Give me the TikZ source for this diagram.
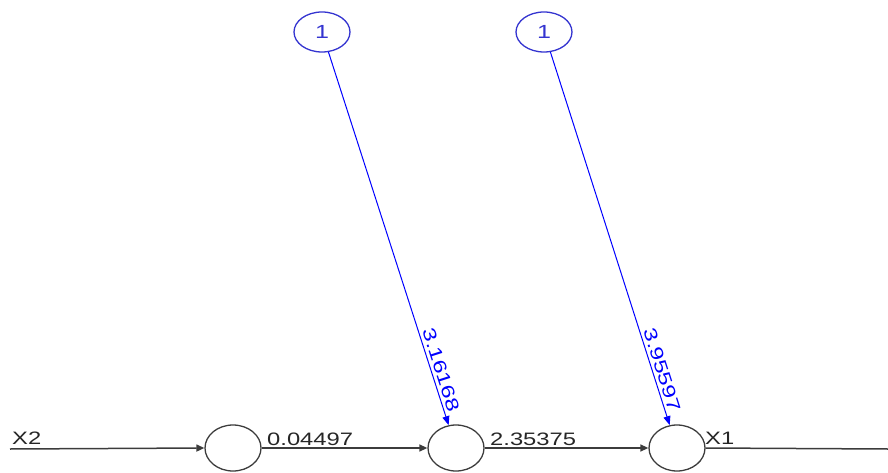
\documentclass[tikz,border=0pt]{standalone}
\usepackage{fontspec}
\setmainfont{Liberation Sans}
\usetikzlibrary{arrows.meta,shapes.geometric}
\definecolor{edgegray}{HTML}{3C3C3C}
\definecolor{biasblue}{HTML}{3434D0}
\newcommand{\wt}[1]{\scalebox{1.32}[1]{#1}}
\begin{document}
\begin{tikzpicture}[x=1pt,y=1pt,
  neuron/.style={draw=edgegray,line width=1.3pt,ellipse,minimum width=56pt,minimum height=46pt,inner sep=0pt},
  biasnode/.style={draw=biasblue,line width=1.3pt,ellipse,minimum width=56pt,minimum height=40pt,inner sep=0pt,text=biasblue},
  edge/.style={draw=edgegray,line width=1.5pt,-{Triangle[length=8pt,width=7pt]}},
  biasedge/.style={draw=blue,line width=1pt,-{Triangle[length=9pt,width=7pt]}},
  lbl/.style={font=\fontsize{18}{20}\selectfont,text=black!85,inner sep=0pt},
  blbl/.style={font=\fontsize{18}{20}\selectfont,text=blue,inner sep=3pt,sloped,above}]
\useasboundingbox (0,0) rectangle (888,472);
% hidden / output neurons
\node[neuron] (h1) at (233,24) {};
\node[neuron] (h2) at (456,24) {};
\node[neuron] (h3) at (677,24) {};
% bias units
\node[biasnode,font=\fontsize{19}{20}\selectfont] (b1) at (322,440) {\wt{1}};
\node[biasnode,font=\fontsize{19}{20}\selectfont] (b2) at (544,440) {\wt{1}};
% input and output ends
\coordinate (in) at (10,23);
\coordinate (out) at (888,23);
% connections
\draw[edge] (in) -- (h1.west);
\draw[edge] (h1.east) -- (h2.west);
\draw[edge] (h2.east) -- (h3.west);
\draw[draw=edgegray,line width=1.5pt] (h3.east) -- (out);
\draw[biasedge] (b1) -- node[blbl,pos=0.86] (w3) {\wt{3.16168}} (h2);
\draw[biasedge] (b2) -- node[blbl,pos=0.86] (w4) {\wt{3.95597}} (h3);
% labels
\node[lbl,anchor=base west] (lx2) at (12,28) {\wt{X2}};
\node[lbl,anchor=base west] (lx1) at (705,28) {\wt{X1}};
\node[lbl,anchor=base west] (w1) at (267,27) {\wt{0.04497}};
\node[lbl,anchor=base west] (w2) at (490,27) {\wt{2.35375}};
\end{tikzpicture}
\end{document}
